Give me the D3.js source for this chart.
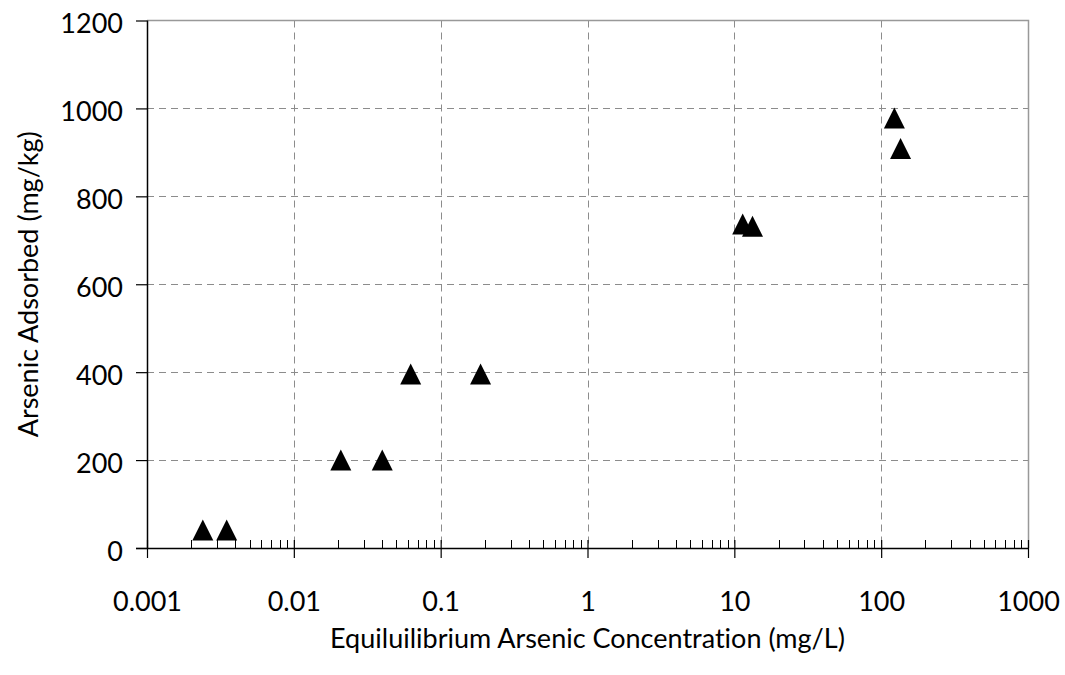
<!DOCTYPE html>
<html>
<head>
<meta charset="utf-8">
<script src="https://cdn.jsdelivr.net/npm/d3@7"></script>
<style>
  html, body { margin: 0; padding: 0; background: #fff; }
  svg text { font-family: Lato, "Open Sans", sans-serif; fill: #000; font-variant-ligatures: none; }
</style>
</head>
<body>
<svg id="chart" width="1065" height="675"></svg>
<script>
// Equilibrium concentration (mg/L) vs. arsenic adsorbed (mg/kg)
const concentration = [0.0024, 0.00349, 0.0209, 0.0400, 0.0625, 0.187, 11.4, 13.3, 123, 135.5];
const adsorbed      = [41, 41, 200, 200, 396, 396, 737, 732, 978, 909];

const xTickValues = [0.001, 0.01, 0.1, 1, 10, 100, 1000];
const xTickLabels = ["0.001", "0.01", "0.1", "1", "10", "100", "1000"];
const yTickValues = [0, 200, 400, 600, 800, 1000, 1200];
const yTickLabels = ["0", "200", "400", "600", "800", "1000", "1200"];

const xTitle = "Equiluilibrium Arsenic Concentration (mg/L)";
const yTitle = "Arsenic Adsorbed (mg/kg)";

const plotL = 147, plotR = 1028, plotT = 20.5, plotB = 548;
const tickFont = 27, titleFont = 27;

const svg = d3.select("#chart");

const x = d3.scaleLog().domain([0.001, 1000]).range([plotL, plotR]);
const y = d3.scaleLinear().domain([0, 1200]).range([plotB, plotT]);

// gridlines
const grid = svg.append("g").attr("stroke", "#8c8c8c").attr("stroke-width", 1)
  .attr("stroke-dasharray", "7,5").attr("fill", "none");
grid.selectAll("line.v").data(xTickValues.slice(1, -1)).join("line")
  .attr("class", "v")
  .attr("x1", d => Math.round(x(d)) + 0.5).attr("x2", d => Math.round(x(d)) + 0.5)
  .attr("y1", plotT).attr("y2", plotB);
grid.selectAll("line.h").data(yTickValues.slice(1, -1)).join("line")
  .attr("class", "h")
  .attr("x1", plotL).attr("x2", plotR)
  .attr("y1", d => Math.round(y(d)) + 0.5).attr("y2", d => Math.round(y(d)) + 0.5);

// plot frame (top and right)
svg.append("path")
  .attr("d", `M${plotL},${plotT}H${plotR + 0.5}V${plotB}`)
  .attr("fill", "none").attr("stroke", "#999").attr("stroke-width", 1.5);

// minor x ticks (2..9 in each decade), pointing up into the plot
const minor = [];
for (let e = -3; e < 3; e++) for (let m = 2; m <= 9; m++) minor.push(m * Math.pow(10, e));
svg.append("g").attr("stroke", "#000").attr("stroke-width", 1)
  .selectAll("line").data(minor).join("line")
  .attr("x1", d => Math.round(x(d)) + 0.5).attr("x2", d => Math.round(x(d)) + 0.5)
  .attr("y1", plotB - 8).attr("y2", plotB);

// x axis with crossing major ticks
const xAxis = svg.append("g").attr("transform", `translate(0,${plotB})`)
  .call(d3.axisBottom(x).tickValues(xTickValues)
    .tickFormat((d, i) => xTickLabels[i]).tickSize(10).tickSizeOuter(0));
xAxis.attr("font-family", null).attr("font-size", null);
xAxis.select(".domain").attr("d", `M${plotL - 11},0.5H${plotR}`).attr("stroke-width", 1.5);
xAxis.selectAll(".tick line").attr("y1", -8).attr("y2", 10).attr("stroke-width", 1.2);
xAxis.selectAll(".tick text").attr("font-size", tickFont).attr("y", 63).attr("dy", null);

// y axis
const yAxis = svg.append("g").attr("transform", `translate(${plotL},0)`)
  .call(d3.axisLeft(y).tickValues(yTickValues)
    .tickFormat((d, i) => yTickLabels[i]).tickSize(11).tickSizeOuter(0));
yAxis.attr("font-family", null).attr("font-size", null);
yAxis.select(".domain").attr("d", `M0.5,${plotT}V${plotB}`).attr("stroke-width", 1.5);
yAxis.selectAll(".tick line").attr("stroke-width", 1.2);
yAxis.selectAll(".tick text").attr("font-size", tickFont).attr("x", -24).attr("dy", null).attr("y", 12);

// axis titles
svg.append("text").attr("x", (plotL + plotR) / 2).attr("y", 648)
  .attr("text-anchor", "middle").attr("font-size", titleFont).text(xTitle);
svg.append("text").attr("transform", `translate(38,${(plotT + plotB) / 2}) rotate(-90)`)
  .attr("text-anchor", "middle").attr("font-size", titleFont).text(yTitle);

// triangle markers, bounding box centred on the value
const tw = 21, th = 21;
svg.append("g").selectAll("path").data(concentration.map((c, i) => [c, adsorbed[i]])).join("path")
  .attr("transform", d => `translate(${x(d[0])},${y(d[1])})`)
  .attr("d", `M0,${-th / 2}L${tw / 2},${th / 2}L${-tw / 2},${th / 2}Z`)
  .attr("fill", "#000");
</script>
</body>
</html>
